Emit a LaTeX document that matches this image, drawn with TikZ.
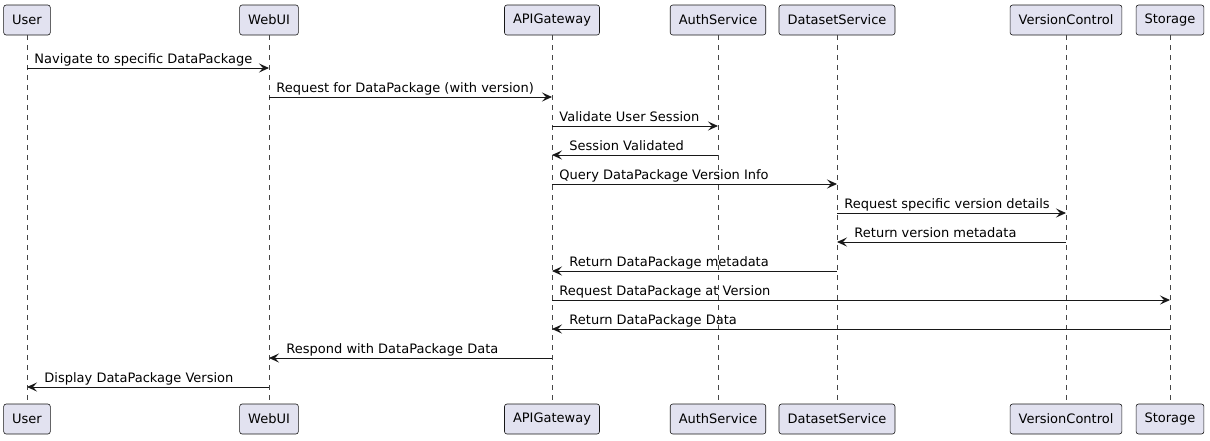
\documentclass[tikz,border=0pt]{standalone}
\usepackage{fontspec}
\setmainfont{DejaVu Sans}
\usetikzlibrary{arrows.meta}
\definecolor{boxfill}{HTML}{E2E2F0}
\definecolor{ink}{HTML}{181818}
\tikzset{
    participant/.style = {draw=ink, fill=boxfill, rounded corners=2.5pt, line width=0.6pt, minimum height=30pt, inner xsep=8.5pt, font=\fontsize{13}{15}\selectfont},
    lifeline/.style = {draw=ink!80, line width=0.5pt, dash pattern=on 5pt off 5pt},
    msg/.style = {draw=ink, line width=0.9pt, -{Stealth[length=10pt,width=9pt,inset=4pt]}},
    msg-label/.style = {font=\fontsize{13}{15}\selectfont, anchor=base west, inner sep=0pt, yshift=5pt},
}

\begin{document}
\begin{tikzpicture}[x=1pt, y=-1pt]
\useasboundingbox (0,0) rectangle (1210,440);
\foreach \id/\name/\x in {user/User/27, webui/WebUI/269, apigw/APIGateway/552, auth/AuthService/718, dataset/DatasetService/837, version/VersionControl/1066, storage/Storage/1170} {
    \node[participant] (\id-top) at (\x,20) {\name};
    \node[participant] (\id-bot) at (\x,419) {\name};
    \draw[lifeline] (\id-top) -- (\id-bot);
}
% messages, top to bottom
\draw[msg] (user-top |- 0,68) -- (webui-top |- 0,68) node[msg-label, pos=0, xshift=7pt] (m1) {Navigate to specific DataPackage};
\draw[msg] (webui-top |- 0,97) -- (apigw-top |- 0,97) node[msg-label, pos=0, xshift=7pt] (m2) {Request for DataPackage (with version)};
\draw[msg] (apigw-top |- 0,126) -- (auth-top |- 0,126) node[msg-label, pos=0, xshift=7pt] (m3) {Validate User Session};
\draw[msg] (auth-top |- 0,155) -- (apigw-top |- 0,155) node[msg-label, pos=1, xshift=17pt] (m4) {Session Validated};
\draw[msg] (apigw-top |- 0,184) -- (dataset-top |- 0,184) node[msg-label, pos=0, xshift=7pt] (m5) {Query DataPackage Version Info};
\draw[msg] (dataset-top |- 0,213) -- (version-top |- 0,213) node[msg-label, pos=0, xshift=7pt] (m6) {Request specific version details};
\draw[msg] (version-top |- 0,242) -- (dataset-top |- 0,242) node[msg-label, pos=1, xshift=17pt] (m7) {Return version metadata};
\draw[msg] (dataset-top |- 0,271) -- (apigw-top |- 0,271) node[msg-label, pos=1, xshift=17pt] (m8) {Return DataPackage metadata};
\draw[msg] (apigw-top |- 0,300) -- (storage-top |- 0,300) node[msg-label, pos=0, xshift=7pt] (m9) {Request DataPackage at Version};
\draw[msg] (storage-top |- 0,329) -- (apigw-top |- 0,329) node[msg-label, pos=1, xshift=17pt] (m10) {Return DataPackage Data};
\draw[msg] (apigw-top |- 0,358) -- (webui-top |- 0,358) node[msg-label, pos=1, xshift=17pt] (m11) {Respond with DataPackage Data};
\draw[msg] (webui-top |- 0,387) -- (user-top |- 0,387) node[msg-label, pos=1, xshift=17pt] (m12) {Display DataPackage Version};
\end{tikzpicture}
\end{document}
